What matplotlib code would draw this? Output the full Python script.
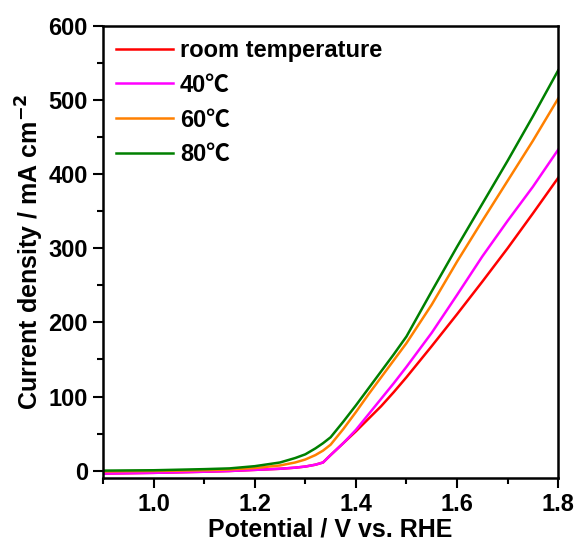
import numpy as np
import matplotlib
matplotlib.use("Agg")
import matplotlib.pyplot as plt
from matplotlib.ticker import MultipleLocator

plt.rcParams['font.family'] = ['Liberation Sans', 'DejaVu Sans']
plt.rcParams['font.weight'] = 'bold'

# data
potential = [0.9, 1.0, 1.1, 1.15, 1.2, 1.25, 1.28, 1.3, 1.32, 1.335, 1.35,
             1.375, 1.4, 1.425, 1.45, 1.475, 1.5, 1.55, 1.6, 1.65, 1.7, 1.75, 1.8]
room = [-4, -3, -1.5, -0.5, 1, 2.5, 4, 5.5, 8, 11, 21,
        37, 53, 70, 87, 106, 126, 168, 211, 255, 300, 347, 395]
t40 = [-4, -3, -1.5, -0.5, 1, 2.5, 4, 5.5, 8, 11, 21,
       37, 55, 76, 97, 118, 140, 186, 237, 289, 337, 383, 433]
t60 = [-1, -0.5, 0.5, 1.5, 3.5, 7, 11, 15, 21, 27, 35,
       56, 79, 103, 126, 149, 172, 224, 282, 337, 391, 445, 502]
t80 = [0, 0.5, 2, 3, 6, 11, 17, 22, 30, 37, 45,
       66, 88, 111, 134, 157, 181, 242, 302, 360, 418, 478, 540]

labels = ["room temperature", "40\u2103", "60\u2103", "80\u2103"]
colors = ["#FF0000", "#FF00FF", "#FF8000", "#008000"]

fig = plt.figure(figsize=(5.79, 5.52), dpi=100)
ax = fig.add_axes([0.178, 0.134, 0.786, 0.819])

for y, lab, c in zip([room, t40, t60, t80], labels, colors):
    ax.plot(potential, y, color=c, lw=1.8, label=lab)

ax.set_xlim(0.9, 1.8)
ax.set_ylim(-10, 600)
ax.set_xticks([1.0, 1.2, 1.4, 1.6, 1.8])
ax.xaxis.set_minor_locator(MultipleLocator(0.1))
ax.yaxis.set_major_locator(MultipleLocator(100))
ax.yaxis.set_minor_locator(MultipleLocator(50))
ax.tick_params(which='major', direction='out', length=7, width=1.5, labelsize=17, pad=4)
ax.tick_params(which='minor', direction='out', length=4, width=1.5)
for s in ax.spines.values():
    s.set_linewidth(1.8)

ax.set_xlabel("Potential / V vs. RHE", fontsize=18, fontweight='bold', labelpad=1)
ax.set_ylabel("Current density / mA cm$^{\\mathbf{-2}}$", fontsize=18, fontweight='bold', labelpad=2)

leg = ax.legend(loc='upper left', frameon=False, fontsize=17, handlelength=2.4,
                labelspacing=0.5, handletextpad=0.3, borderaxespad=0.15)
for t in leg.get_texts():
    t.set_fontfamily(['Liberation Sans', 'Noto Sans CJK SC'])

plt.savefig("out.png", dpi=100)
